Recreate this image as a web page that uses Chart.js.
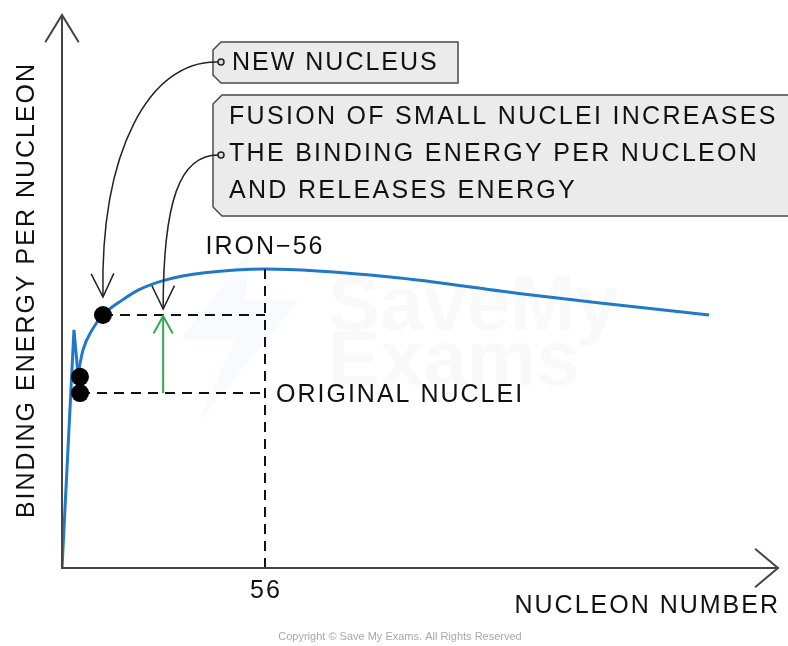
<!DOCTYPE html>
<html>
<head>
<meta charset="utf-8">
<script src="https://cdn.jsdelivr.net/npm/chart.js@4.4.1/dist/chart.umd.min.js"></script>
<style>
  html, body { margin: 0; padding: 0; background: #fff; }
  #wrap { position: relative; width: 788px; height: 646px; }
</style>
</head>
<body>
<div id="wrap"><canvas id="c"></canvas></div>
<script>
// nucleon number (A) and binding energy per nucleon (MeV)
const lightA = [0, 3.3, 4.4];
const lightBE = [0, 6.89, 5.61];
const curveA = [4.4, 5.8, 8.3, 11.3, 16.6, 21.0, 28.4, 39.4, 56, 90.5, 127.2, 148.4, 178.5];
const curveBE = [5.61, 6.31, 6.89, 7.32, 7.75, 8.04, 8.33, 8.54, 8.65, 8.42, 7.93, 7.67, 7.32];

const originalA = [4.97, 4.97];
const originalBE = [5.53, 5.06];
const newA = [11.3];
const newBE = [7.32];
const ironA = 56;
const ironBE = 8.65;
const fusionArrowA = 27.9;

const xTickValues = [56];
const xTickLabels = ['56'];

const FONT = '"Liberation Sans", Arial, sans-serif';
const pts = (xs, ys) => xs.map((x, i) => ({x: x, y: ys[i]}));

const dashed = {
    showLine: true, borderColor: '#111', borderWidth: 2, borderDash: [10, 7],
    pointRadius: 0, fill: false
};

// draw an open V arrow head at (x, y) pointing along angle ang
function arrowHead(ctx, x, y, ang, len, spread) {
    ctx.beginPath();
    ctx.moveTo(x - len * Math.cos(ang - spread), y - len * Math.sin(ang - spread));
    ctx.lineTo(x, y);
    ctx.lineTo(x - len * Math.cos(ang + spread), y - len * Math.sin(ang + spread));
    ctx.stroke();
}

function callout(ctx, x1, y1, x2, y2, cut) {
    ctx.beginPath();
    ctx.moveTo(x1 + cut, y1);
    ctx.lineTo(x2, y1);
    ctx.lineTo(x2, y2);
    ctx.lineTo(x1 + cut, y2);
    ctx.lineTo(x1, y2 - cut);
    ctx.lineTo(x1, y1 + cut);
    ctx.closePath();
    ctx.fillStyle = '#ebebeb';
    ctx.fill();
    ctx.lineWidth = 1.5;
    ctx.strokeStyle = '#4a4a4a';
    ctx.stroke();
}

function curvedArrow(ctx, p0, c1, c2, p3) {
    ctx.strokeStyle = '#222';
    ctx.lineWidth = 1.5;
    ctx.beginPath();
    ctx.moveTo(p0[0], p0[1]);
    ctx.bezierCurveTo(c1[0], c1[1], c2[0], c2[1], p3[0], p3[1]);
    ctx.stroke();
    const ang = Math.atan2(p3[1] - c2[1], p3[0] - c2[0]);
    arrowHead(ctx, p3[0], p3[1], ang, 26, 0.45);
    ctx.beginPath();
    ctx.arc(p0[0] + 3, p0[1], 3, 0, Math.PI * 2);
    ctx.fillStyle = '#ddd';
    ctx.fill();
    ctx.stroke();
}

const watermark = {
    id: 'watermark',
    beforeDatasetsDraw(chart) {
        const ctx = chart.ctx;
        ctx.save();
        ctx.fillStyle = 'rgba(215, 226, 245, 0.18)';
        ctx.beginPath();
        ctx.moveTo(250, 250);
        ctx.lineTo(180, 340);
        ctx.lineTo(235, 340);
        ctx.lineTo(200, 420);
        ctx.lineTo(300, 300);
        ctx.lineTo(245, 300);
        ctx.closePath();
        ctx.fill();
        ctx.fillStyle = 'rgba(0, 0, 0, 0.022)';
        ctx.font = 'bold 78px ' + FONT;
        ctx.textBaseline = 'alphabetic';
        ctx.fillText('SaveMy', 328, 330);
        ctx.fillText('Exams', 328, 385);
        ctx.restore();
    }
};

const sketch = {
    id: 'sketch',
    afterDraw(chart) {
        const ctx = chart.ctx;
        const xs = chart.scales.x, ys = chart.scales.y;
        const area = chart.chartArea;
        ctx.save();

        // axes with open arrow heads
        ctx.strokeStyle = '#444';
        ctx.lineWidth = 2;
        ctx.beginPath();
        ctx.moveTo(area.left, area.top);
        ctx.lineTo(area.left, area.bottom);
        ctx.lineTo(area.right, area.bottom);
        ctx.stroke();
        arrowHead(ctx, area.left, area.top, -Math.PI / 2, 32, 0.55);
        arrowHead(ctx, area.right, area.bottom, 0, 30, 0.7);

        ctx.fillStyle = '#111';
        ctx.font = '25px ' + FONT;
        ctx.letterSpacing = '2px';
        ctx.textBaseline = 'middle';

        // tick labels
        ctx.textAlign = 'center';
        xTickValues.forEach((v, i) => {
            ctx.fillText(xTickLabels[i], xs.getPixelForValue(v) + 1, area.bottom + 23);
        });

        // axis titles
        ctx.textAlign = 'right';
        ctx.fillText('NUCLEON NUMBER', area.right + 2, area.bottom + 38);
        ctx.save();
        ctx.translate(27, 290);
        ctx.rotate(-Math.PI / 2);
        ctx.textAlign = 'center';
        ctx.fillText('BINDING ENERGY PER NUCLEON', 0, 0);
        ctx.restore();

        // point labels
        const ironX = xs.getPixelForValue(ironA);
        ctx.textAlign = 'center';
        ctx.fillText('IRON\u221256', ironX, ys.getPixelForValue(ironBE) - 22);
        ctx.textAlign = 'left';
        ctx.fillText('ORIGINAL NUCLEI', ironX + 11, ys.getPixelForValue(originalBE[1]) + 2);

        // green arrow head
        const gx = xs.getPixelForValue(fusionArrowA);
        const gTop = ys.getPixelForValue(newBE[0]);
        ctx.strokeStyle = '#35a853';
        ctx.lineWidth = 2;
        arrowHead(ctx, gx, gTop + 1, -Math.PI / 2, 20, 0.5);

        // callout boxes
        callout(ctx, 213, 42, 458, 83, 8);
        callout(ctx, 213, 95, 792, 216, 9);
        ctx.fillStyle = '#111';
        ctx.textAlign = 'left';
        ctx.fillText('NEW NUCLEUS', 232, 63);
        ctx.letterSpacing = '2.3px';
        ctx.fillText('FUSION OF SMALL NUCLEI INCREASES', 229, 117);
        ctx.fillText('THE BINDING ENERGY PER NUCLEON', 229, 154);
        ctx.fillText('AND RELEASES ENERGY', 229, 191);

        // pointers from the boxes
        const nx = xs.getPixelForValue(newA[0]);
        const ny = ys.getPixelForValue(newBE[0]);
        curvedArrow(ctx, [218, 62], [150, 60], [100, 150], [nx, ny - 18]);
        curvedArrow(ctx, [218, 155], [180, 155], [gx, 200], [gx, gTop - 6]);

        // copyright line
        ctx.letterSpacing = '0px';
        ctx.font = '11px ' + FONT;
        ctx.fillStyle = '#a8a8a8';
        ctx.textAlign = 'center';
        ctx.fillText('Copyright \u00a9 Save My Exams. All Rights Reserved', 400, 637);
        ctx.restore();
    }
};

new Chart(document.getElementById('c'), {
    type: 'scatter',
    data: {
        datasets: [
            { data: pts(newA, newBE), pointRadius: 9, pointBackgroundColor: '#000', pointBorderWidth: 0 },
            { data: pts(originalA, originalBE), pointRadius: 9, pointBackgroundColor: '#000', pointBorderWidth: 0 },
            { data: pts([fusionArrowA, fusionArrowA], [originalBE[1], newBE[0]]), showLine: true,
              borderColor: '#35a853', borderWidth: 2, pointRadius: 0 },
            Object.assign({ data: pts([originalA[1], ironA], [originalBE[1], originalBE[1]]) }, dashed),
            Object.assign({ data: pts([newA[0], ironA], [newBE[0], newBE[0]]) }, dashed),
            Object.assign({ data: pts([ironA, ironA], [ironBE, 0]) }, dashed),
            { data: pts(curveA, curveBE), showLine: true, borderColor: '#1f78c8', borderWidth: 3,
              pointRadius: 0, cubicInterpolationMode: 'monotone' },
            { data: pts(lightA, lightBE), showLine: true, borderColor: '#1f78c8', borderWidth: 3,
              pointRadius: 0, tension: 0 }
        ]
    },
    options: {
        responsive: true,
        maintainAspectRatio: false,
        animation: false,
        events: [],
        layout: { padding: { left: 62, right: 10, top: 15, bottom: 78 } },
        plugins: { legend: { display: false }, tooltip: { enabled: false } },
        scales: {
            x: { type: 'linear', min: 0, max: 197.5, display: false },
            y: { type: 'linear', min: 0, max: 16, display: false }
        }
    },
    plugins: [watermark, sketch]
});
</script>
</body>
</html>
